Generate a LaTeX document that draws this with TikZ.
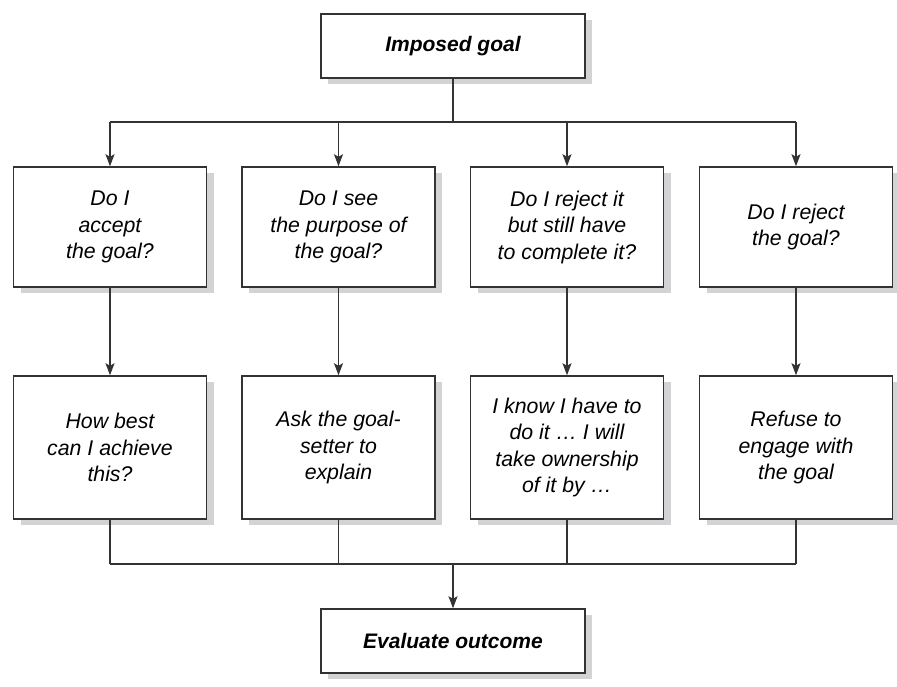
\documentclass[tikz,border=0pt]{standalone}
\usepackage{fontspec}
\setmainfont{Liberation Sans}
\usetikzlibrary{arrows.meta,shadows}

\definecolor{linegray}{HTML}{333333}
\definecolor{shadowgray}{HTML}{D3D3D5}

\tikzset{
    goalbox/.style={draw=linegray, line width=1.5pt, fill=white,
        minimum width=264pt, minimum height=64pt, inner sep=0pt, align=center,
        font=\bfseries\itshape\fontsize{21}{26}\selectfont,
        drop shadow={shadow xshift=7pt, shadow yshift=-6pt, fill=shadowgray, opacity=1}},
    questionbox/.style={goalbox, minimum width=193pt, minimum height=120pt,
        font=\itshape\fontsize{21.3}{26.5}\selectfont},
    answerbox/.style={questionbox, minimum height=143pt},
    link/.style={draw=linegray, line width=1.2pt},
    flow/.style={link, -{Stealth[length=12pt, width=9pt, inset=2.5pt]}},
}

\begin{document}
\begin{tikzpicture}[x=1pt, y=-1pt]
    \useasboundingbox (0,0) rectangle (897,686);

    % Boxes
    \node[goalbox] (imposed) at (453, 46) {Imposed goal};

    \node[questionbox] (q1) at (110, 227) {Do I\\accept\\the goal?};
    \node[questionbox] (q2) at (338.5, 227) {Do I see\\the purpose of\\the goal?};
    \node[questionbox] (q3) at (567, 227) {Do I reject it\\but still have\\to complete it?};
    \node[questionbox] (q4) at (796, 227) {Do I reject\\the goal?};

    \node[answerbox] (a1) at (110, 447.5) {How best\\can I achieve\\this?};
    \node[answerbox] (a2) at (338.5, 447.5) {Ask the goal-\\setter to\\explain};
    \node[answerbox] (a3) at (567, 447.5) {I know I have to\\do it … I will\\take ownership\\of it by …};
    \node[answerbox] (a4) at (796, 447.5) {Refuse to\\engage with\\the goal};

    \node[goalbox] (outcome) at (453, 641) {Evaluate outcome};

    \coordinate (split) at (453, 122);
    \coordinate (join) at (453, 564);

    % Connectors
    \draw[link] (imposed) -- (split);
    \draw[link] (q1.north |- split) -- (q4.north |- split);
    \foreach \i in {1,...,4} {
        \draw[flow] (q\i.north |- split) -- (q\i);
        \draw[flow] (q\i) -- (a\i);
        \draw[link] (a\i) -- (a\i.south |- join);
    }
    \draw[link] (a1.south |- join) -- (a4.south |- join);
    \draw[flow] (join) -- (outcome);

\end{tikzpicture}
\end{document}
